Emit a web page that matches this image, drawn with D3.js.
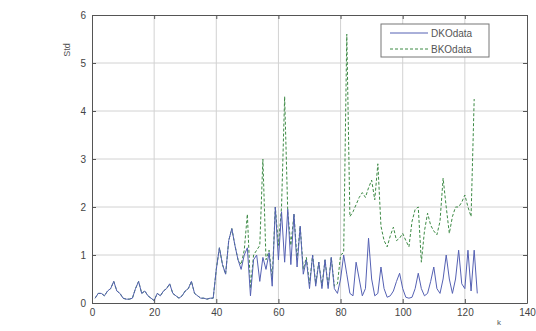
<!DOCTYPE html>
<html>
<head>
<meta charset="utf-8">
<script src="https://cdn.jsdelivr.net/npm/d3@7"></script>
<style>
  html, body { margin: 0; padding: 0; background: #fff; }
  svg { display: block; }
</style>
</head>
<body>
<svg id="chart" width="536" height="331"></svg>
<script>
// Sample index (1..124)
const sampleIndex = d3.range(1, 125);

// Solid series
const seriesA = [
  0.10, 0.20, 0.20, 0.15, 0.25, 0.30, 0.45, 0.25, 0.20, 0.10,
  0.08, 0.08, 0.10, 0.30, 0.45, 0.20, 0.25, 0.15, 0.10, 0.05,
  0.20, 0.15, 0.25, 0.30, 0.40, 0.20, 0.15, 0.10, 0.15, 0.25,
  0.30, 0.45, 0.20, 0.15, 0.10, 0.10, 0.08, 0.10, 0.10, 0.70,
  1.15, 0.80, 0.60, 1.30, 1.55, 1.20, 0.90, 0.70, 1.00, 1.15,
  0.15, 0.90, 1.00, 0.45, 0.95, 0.70, 1.05, 0.35, 2.00, 0.90,
  1.90, 0.85, 1.95, 0.80, 1.85, 0.75, 1.60, 0.60, 0.90, 0.30,
  1.00, 0.35, 0.85, 0.30, 0.90, 0.30, 0.95, 0.30, 0.20, 0.50,
  1.00, 0.60, 0.20, 0.15, 0.85, 0.50, 0.15, 0.30, 1.35, 0.50,
  0.15, 0.20, 0.75, 0.30, 0.12, 0.15, 0.25, 0.45, 0.62, 0.30,
  0.12, 0.10, 0.12, 0.30, 0.62, 0.30, 0.15, 0.20, 0.45, 0.75,
  0.30, 0.20, 0.50, 1.00, 0.50, 0.20, 0.50, 1.10, 0.40, 0.30,
  1.10, 0.25, 1.10, 0.20
];

// Dashed series
const seriesB = [
  0.10, 0.20, 0.20, 0.15, 0.25, 0.30, 0.45, 0.25, 0.20, 0.10,
  0.08, 0.08, 0.10, 0.30, 0.45, 0.20, 0.25, 0.15, 0.10, 0.05,
  0.20, 0.15, 0.25, 0.30, 0.40, 0.20, 0.15, 0.10, 0.15, 0.25,
  0.30, 0.45, 0.20, 0.15, 0.10, 0.10, 0.08, 0.10, 0.10, 0.70,
  1.15, 0.80, 0.60, 1.30, 1.55, 1.20, 0.90, 0.80, 1.10, 1.85,
  0.30, 1.00, 1.10, 1.20, 3.00, 0.90, 1.10, 0.50, 2.00, 1.20,
  2.00, 4.30, 1.90, 1.20, 1.85, 0.90, 1.60, 0.70, 0.95, 0.40,
  1.00, 0.40, 0.85, 0.35, 0.90, 0.35, 0.95, 0.35, 0.40, 1.00,
  1.05, 5.60, 1.80, 1.90, 2.05, 2.20, 2.30, 2.20, 2.40, 2.56,
  2.15, 2.90, 1.60, 1.30, 1.17, 1.40, 1.58, 1.30, 1.35, 1.45,
  1.30, 1.17, 1.70, 1.95, 2.00, 0.85, 1.50, 1.87, 1.62, 1.50,
  1.42, 1.70, 2.60, 2.00, 1.45, 1.80, 2.00, 2.00, 2.10, 2.25,
  2.00, 1.80, 4.25
];

const legendNames = ["DKOdata", "BKOdata"];
const xTicks = [0, 20, 40, 60, 80, 100, 120, 140];
const yTicks = [0, 1, 2, 3, 4, 5, 6];
const yLabel = "Std";
const xCorner = "k";

const svg = d3.select("#chart");
const margin = { left: 92, right: 9, top: 15, bottom: 28 };
const W = 536, H = 331;
const iw = W - margin.left - margin.right;
const ih = H - margin.top - margin.bottom;

const x = d3.scaleLinear().domain([0, 140]).range([margin.left, margin.left + iw]);
const y = d3.scaleLinear().domain([0, 6]).range([margin.top + ih, margin.top]);

const g = svg.append("g");

// grid
g.append("g").selectAll("line").data(xTicks.slice(1, -1)).join("line")
  .attr("x1", d => x(d)).attr("x2", d => x(d))
  .attr("y1", y(0)).attr("y2", y(6))
  .attr("stroke", "#d2d2d2").attr("stroke-width", 1);
g.append("g").selectAll("line").data(yTicks.slice(1, -1)).join("line")
  .attr("x1", x(0)).attr("x2", x(140))
  .attr("y1", d => y(d)).attr("y2", d => y(d))
  .attr("stroke", "#d2d2d2").attr("stroke-width", 1);

// series lines
const lineA = d3.line().x((d, i) => x(sampleIndex[i])).y(d => y(d));
g.append("path").datum(seriesB)
  .attr("d", lineA).attr("fill", "none")
  .attr("stroke", "#3d8a45").attr("stroke-width", 1)
  .attr("stroke-dasharray", "3,2");
g.append("path").datum(seriesA)
  .attr("d", lineA).attr("fill", "none")
  .attr("stroke", "#5561b3").attr("stroke-width", 1);

// axes with inward ticks, box style
const axisColor = "#555";
const fontFam = "Liberation Sans, Arial, sans-serif";
const fmt = d3.format("d");

const xAxisB = d3.axisBottom(x).tickValues(xTicks).tickFormat(fmt).tickSizeInner(-4).tickSizeOuter(0).tickPadding(6);
const xAxisT = d3.axisTop(x).tickValues(xTicks).tickSizeInner(-4).tickSizeOuter(0).tickFormat("");
const yAxisL = d3.axisLeft(y).tickValues(yTicks).tickFormat(fmt).tickSizeInner(-4).tickSizeOuter(0).tickPadding(6);
const yAxisR = d3.axisRight(y).tickValues(yTicks).tickSizeInner(-4).tickSizeOuter(0).tickFormat("");

function styleAxis(sel) {
  sel.selectAll("path").attr("stroke", axisColor);
  sel.selectAll("line").attr("stroke", axisColor);
  sel.selectAll("text").attr("fill", "#444").attr("font-size", 10).attr("font-family", fontFam);
}
g.append("g").attr("transform", `translate(0,${y(0)})`).call(xAxisB).call(styleAxis);
g.append("g").attr("transform", `translate(0,${y(6)})`).call(xAxisT).call(styleAxis);
g.append("g").attr("transform", `translate(${x(0)},0)`).call(yAxisL).call(styleAxis);
g.append("g").attr("transform", `translate(${x(140)},0)`).call(yAxisR).call(styleAxis);

// y label
svg.append("text")
  .attr("transform", `translate(70,50) rotate(-90)`)
  .attr("text-anchor", "middle")
  .attr("font-size", 9).attr("font-family", fontFam).attr("fill", "#555")
  .text(yLabel);

// corner mark
svg.append("text")
  .attr("x", 497).attr("y", 325)
  .attr("font-size", 8).attr("font-family", fontFam).attr("fill", "#555")
  .text(xCorner);

// legend
const lg = svg.append("g").attr("transform", "translate(381,24)");
lg.append("rect").attr("width", 108).attr("height", 33)
  .attr("fill", "#fff").attr("stroke", "#777").attr("stroke-width", 1);
const legendStyles = [
  { stroke: "#5561b3", dash: null },
  { stroke: "#3d8a45", dash: "3,2" }
];
legendNames.forEach((name, i) => {
  const yy = 9 + i * 16;
  lg.append("line").attr("x1", 9).attr("x2", 47).attr("y1", yy).attr("y2", yy)
    .attr("stroke", legendStyles[i].stroke).attr("stroke-width", 1)
    .attr("stroke-dasharray", legendStyles[i].dash);
  lg.append("text").attr("x", 50).attr("y", yy + 3.5)
    .attr("font-size", 10).attr("font-family", fontFam).attr("fill", "#555")
    .text(name);
});
</script>
</body>
</html>
